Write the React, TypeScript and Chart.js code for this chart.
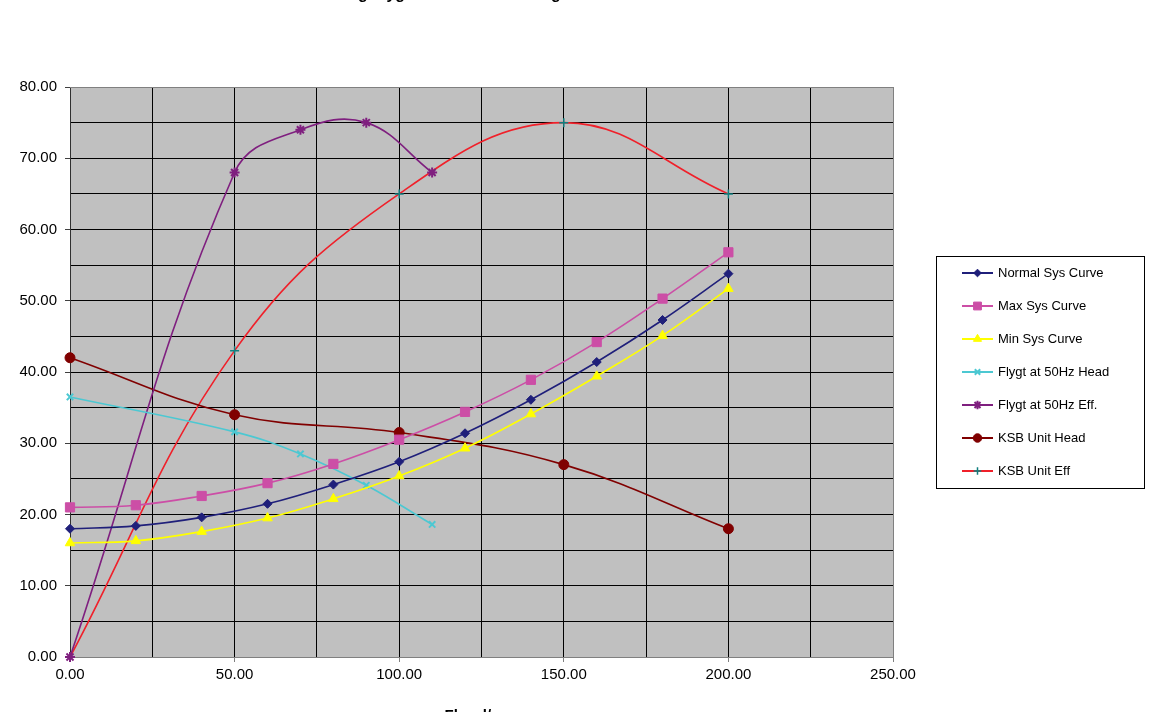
import React, { useEffect, useRef } from "react";
import { Chart, registerables } from "chart.js";
import { drawPoint } from "chart.js/helpers";

Chart.register(...registerables);

const seriesNames = [
  "Normal Sys Curve",
  "Max Sys Curve",
  "Min Sys Curve",
  "Flygt at 50Hz Head",
  "Flygt at 50Hz Eff.",
  "KSB Unit Head",
  "KSB Unit Eff",
];

const sysFlow = [0, 20, 40, 60, 80, 100, 120, 140, 160, 180, 200];
const normalSys = [18.0, 18.4, 19.6, 21.5, 24.2, 27.4, 31.4, 36.1, 41.4, 47.3, 53.8];
const maxSys = [21.0, 21.3, 22.6, 24.4, 27.1, 30.5, 34.4, 38.9, 44.2, 50.3, 56.8];
const minSys = [16.0, 16.3, 17.6, 19.5, 22.2, 25.4, 29.3, 34.1, 39.4, 45.1, 51.7];

const flygtFlow = [0, 50, 70, 90, 110];
const flygtHead = [36.5, 31.6, 28.5, 24.1, 18.6];
const flygtEffFlow = [0, 50, 70, 90, 110];
const flygtEff = [0, 68, 74, 75, 68];

const ksbFlow = [0, 50, 100, 150, 200];
const ksbHead = [42.0, 34.0, 31.5, 27.0, 18.0];
const ksbEff = [0, 43, 65, 75, 65];

const xTicksMajor = 50;
const xTicksMinor = 25;
const yTicksMajor = 10;
const yTicksMinor = 5;

const titleText = "Existing Flygt vs KSB Unit Rating";
const xTitleText = "Flow l/s";

const FONT = "'Liberation Sans', Arial, sans-serif";

function pts(xs: number[], ys: number[]) {
  return xs.map((x, i) => ({ x, y: ys[i] }));
}

export default function App() {
  const ref = useRef<HTMLCanvasElement | null>(null);

  useEffect(() => {
    const canvas = ref.current;
    if (!canvas) return;

    const bgPlugin = {
      id: "bgPlugin",
      beforeDraw(chart: any) {
        const { ctx, chartArea } = chart;
        ctx.save();
        ctx.fillStyle = "#ffffff";
        ctx.fillRect(0, 0, chart.width, chart.height);
        ctx.fillStyle = "#c0c0c0";
        ctx.fillRect(chartArea.left, chartArea.top, chartArea.right - chartArea.left, chartArea.bottom - chartArea.top);
        ctx.restore();
      },
      beforeDatasetsDraw(chart: any) {
        const { ctx, chartArea } = chart;
        ctx.save();
        ctx.strokeStyle = "#808080";
        ctx.lineWidth = 1;
        ctx.beginPath();
        ctx.moveTo(chartArea.left, Math.round(chartArea.top) + 0.5);
        ctx.lineTo(chartArea.right, Math.round(chartArea.top) + 0.5);
        ctx.moveTo(Math.round(chartArea.right) + 0.5, chartArea.top);
        ctx.lineTo(Math.round(chartArea.right) + 0.5, chartArea.bottom);
        ctx.stroke();
        ctx.restore();
      },
      afterDraw(chart: any) {
        const { ctx } = chart;
        ctx.save();
        // legend box
        const bx = 936.5, by = 256.5, bw = 208, bh = 232;
        ctx.fillStyle = "#ffffff";
        ctx.fillRect(bx, by, bw, bh);
        ctx.strokeStyle = "#000000";
        ctx.lineWidth = 1;
        ctx.strokeRect(bx, by, bw, bh);
        chart.data.datasets.forEach((ds: any, i: number) => {
          const y = 273 + i * 33;
          ctx.strokeStyle = ds.borderColor;
          ctx.lineWidth = 2;
          ctx.beginPath();
          ctx.moveTo(962, y);
          ctx.lineTo(993, y);
          ctx.stroke();
          ctx.fillStyle = ds.pointBackgroundColor;
          ctx.strokeStyle = ds.pointBorderColor;
          ctx.lineWidth = ds.pointBorderWidth;
          drawPoint(ctx, { pointStyle: ds.pointStyle, radius: ds.pointRadius * 0.85, rotation: 0, borderWidth: ds.pointBorderWidth }, 977.5, y);
          ctx.fillStyle = "#000000";
          ctx.font = `13px ${FONT}`;
          ctx.textAlign = "left";
          ctx.textBaseline = "middle";
          ctx.fillText(ds.label, 998, y);
        });
        // chart title (mostly above the visible page)
        ctx.font = `bold 16px ${FONT}`;
        ctx.fillStyle = "#000000";
        ctx.textBaseline = "alphabetic";
        ctx.textAlign = "left";
        const pre = ctx.measureText("Existin").width;
        ctx.fillText(titleText, 358 - pre, -1);
        // x axis title (mostly below the visible page)
        ctx.font = `bold 15px ${FONT}`;
        ctx.textAlign = "center";
        ctx.textBaseline = "top";
        ctx.fillText(xTitleText, 472, 708);
        ctx.restore();
      },
    };

    const mk = (label: string, data: any[], color: string, style: string, radius: number, opts: any = {}) => ({
      label,
      data,
      showLine: true,
      tension: 0.4,
      borderColor: color,
      backgroundColor: color,
      borderWidth: 1.6,
      pointStyle: style,
      pointRadius: radius,
      pointHoverRadius: radius,
      pointBackgroundColor: color,
      pointBorderColor: color,
      pointBorderWidth: 1,
      clip: false,
      ...opts,
    });

    const chart = new Chart(canvas, {
      type: "scatter",
      data: {
        datasets: [
          mk(seriesNames[0], pts(sysFlow, normalSys), "#1f1f7a", "rectRot", 4.5),
          mk(seriesNames[1], pts(sysFlow, maxSys), "#cc4ea6", "rect", 6.5),
          mk(seriesNames[2], pts(sysFlow, minSys), "#ffff00", "triangle", 5.5),
          mk(seriesNames[3], pts(flygtFlow, flygtHead), "#4cc8d2", "crossRot", 4.5, { pointBorderWidth: 2 }),
          mk(seriesNames[4], pts(flygtEffFlow, flygtEff), "#7f1f7f", "star", 5, { pointBorderWidth: 2 }),
          mk(seriesNames[5], pts(ksbFlow, ksbHead), "#800000", "circle", 5),
          mk(seriesNames[6], pts(ksbFlow, ksbEff), "#f0202a", "cross", 4.5, { pointBorderColor: "#108080", pointBackgroundColor: "#108080", pointBorderWidth: 1.5 }),
        ],
      },
      options: {
        responsive: false,
        animation: false,
        devicePixelRatio: 1,
        layout: { padding: { left: 0, right: 262, top: 87, bottom: 0 } },
        plugins: {
          legend: { display: false },
          title: { display: false },
          tooltip: { enabled: false },
        },
        events: [],
        scales: {
          x: {
            type: "linear",
            min: 0,
            max: 250,
            afterFit: (s: any) => {
              s.height = 55;
            },
            ticks: {
              stepSize: xTicksMinor,
              autoSkip: false,
              maxRotation: 0,
              padding: 4,
              color: "#000000",
              font: { family: FONT, size: 15 },
              callback: (v: any) => (Number(v) % xTicksMajor === 0 ? Number(v).toFixed(2) : ""),
            },
            grid: {
              color: "#000000",
              lineWidth: 1,
              tickLength: 5,
              tickColor: (c: any) => (c.tick && c.tick.value % xTicksMajor === 0 ? "#808080" : "rgba(0,0,0,0)"),
            },
            border: { color: "#808080", width: 1 },
          },
          y: {
            type: "linear",
            min: 0,
            max: 80,
            afterFit: (s: any) => {
              s.width = 70;
            },
            ticks: {
              stepSize: yTicksMinor,
              autoSkip: false,
              padding: 8,
              color: "#000000",
              font: { family: FONT, size: 15 },
              callback: (v: any) => (Number(v) % yTicksMajor === 0 ? Number(v).toFixed(2) : ""),
            },
            grid: {
              color: "#000000",
              lineWidth: 1,
              tickLength: 5,
              tickColor: (c: any) => (c.tick && c.tick.value % yTicksMajor === 0 ? "#404040" : "rgba(0,0,0,0)"),
            },
            border: { color: "#303030", width: 1 },
          },
        },
      },
      plugins: [bgPlugin],
    } as any);

    return () => chart.destroy();
  }, []);

  return (
    <div style={{ position: "absolute", left: 0, top: 0, width: 1155, height: 712, overflow: "hidden", background: "#fff" }}>
      <canvas ref={ref} width={1155} height={712} style={{ display: "block", width: 1155, height: 712 }} />
    </div>
  );
}
